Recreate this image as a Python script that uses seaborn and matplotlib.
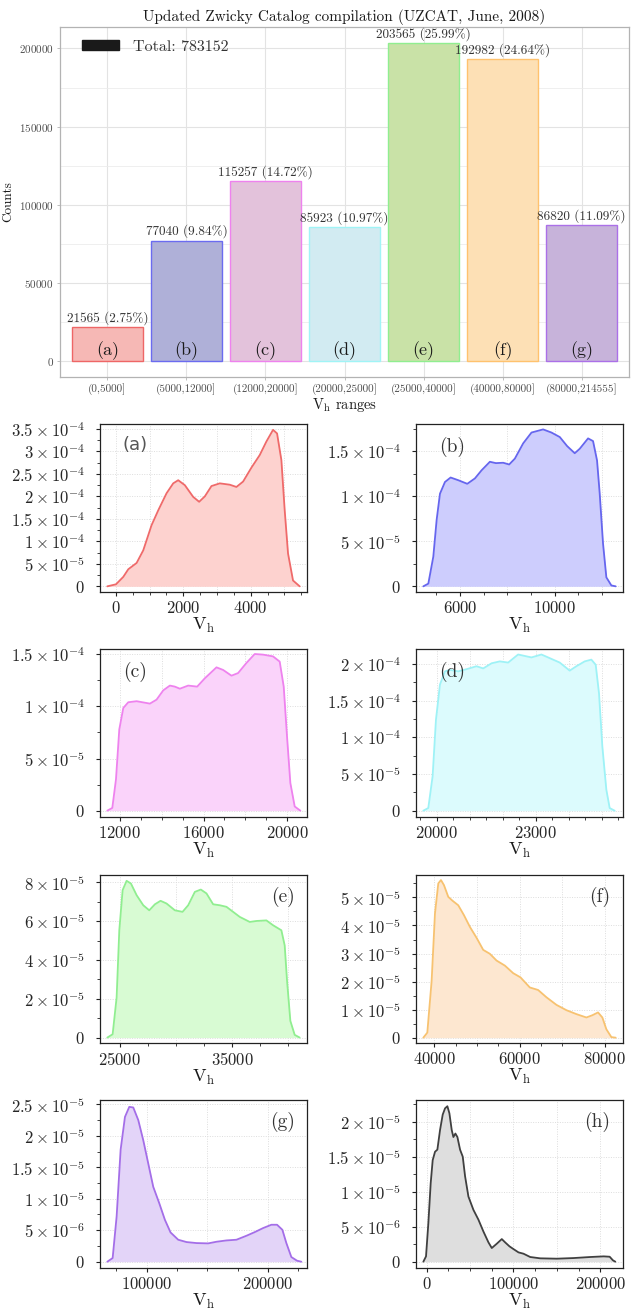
import numpy as np
import matplotlib
matplotlib.use("Agg")
import matplotlib.pyplot as plt
import matplotlib.patches as mpatches
from matplotlib.ticker import FixedLocator, FixedFormatter
import seaborn as sns

# bar chart data
categories = ["(0,5000]", "(5000,12000]", "(12000,20000]", "(20000,25000]",
              "(25000,40000]", "(40000,80000]", "(80000,214555]"]
counts = [21565, 77040, 115257, 85923, 203565, 192982, 86820]
percents = ["2.75%", "9.84%", "14.72%", "10.97%", "25.99%", "24.64%", "11.09%"]
letters = ["(a)", "(b)", "(c)", "(d)", "(e)", "(f)", "(g)"]
total = 783152
bar_fill = ["#f6b8b5", "#afb0d8", "#e3c2db", "#d2ebf2", "#c9e2a7", "#fde0b5", "#c7b3da"]
bar_edge = ["#ee6666", "#6b6bf0", "#ee82ee", "#a0f4f6", "#90ee90", "#ffc26e", "#ab70e8"]

# density curves (y in units of 1e-5)
vh_a = [-257, 0, 217, 366, 613, 810, 1057, 1255, 1502, 1700, 1848, 2045, 2292, 2470, 2638,
        2836, 3083, 3380, 3577, 3775, 4022, 4269, 4466, 4664, 4783, 4911, 5010, 5109, 5257, 5455]
dens_a = [0, 0.45, 2.1, 3.8, 5.2, 8.0, 13.6, 16.9, 20.7, 22.9, 23.6, 22.5, 19.9, 18.8, 20.0,
          22.3, 22.9, 22.6, 22.1, 23.3, 26.4, 29.2, 32.2, 34.8, 34.0, 28.1, 16.9, 7.3, 1.3, 0]

vh_b = [4456, 4667, 4877, 5018, 5158, 5368, 5607, 5930, 6309, 6632, 6912, 7263, 7516, 7825, 8077, 8316,
        8667, 9018, 9509, 9860, 10211, 10519, 10842, 11053, 11404, 11614, 11782, 11895, 12035, 12175,
        12386, 12568]
dens_b = [0, 0.3, 3.3, 7.4, 10.3, 11.6, 12.1, 11.8, 11.4, 12.0, 12.9, 13.85, 13.7, 13.74, 13.55, 14.2,
          15.9, 17.1, 17.45, 17.1, 16.6, 15.6, 14.8, 15.3, 16.45, 16.15, 14.0, 10.3, 4.75, 1.0, 0.1, 0]

vh_c = [11394, 11633, 11809, 11968, 12159, 12398, 12797, 13434, 13753, 14072, 14390, 14629, 14868,
        15267, 15697, 16064, 16622, 16940, 17339, 17657, 18056, 18454, 18853, 19331, 19649, 19841,
        20000, 20159, 20367, 20637]
dens_c = [0, 0.26, 3.0, 7.8, 9.85, 10.4, 10.5, 10.27, 10.65, 11.54, 12.0, 11.9, 11.7, 12.0, 11.9,
          12.7, 13.75, 13.5, 12.95, 13.2, 14.17, 15.03, 14.97, 14.8, 14.3, 11.9, 7.1, 2.65, 0.4, 0]

vh_d = [19597, 19748, 19879, 19980, 20101, 20252, 20403, 20655, 20906, 21208, 21410, 21662, 21913,
        22165, 22467, 22669, 22870, 23172, 23424, 23726, 24028, 24230, 24481, 24683, 24814, 24914,
        25015, 25136, 25237, 25388]
dens_d = [0, 0.36, 4.7, 12.4, 17.2, 19.0, 19.2, 19.0, 19.3, 19.7, 19.4, 20.1, 20.36, 20.2, 21.3,
          21.1, 20.9, 21.3, 20.8, 20.2, 19.1, 19.7, 20.36, 20.6, 19.9, 16.0, 8.77, 2.86, 0.36, 0]

vh_e = [23872, 24347, 24703, 24941, 25237, 25593, 25979, 26484, 27077, 27611, 28116, 28620, 29154,
        29896, 30579, 31083, 31677, 32211, 32715, 33309, 33902, 34496, 35089, 35682, 36573, 37166,
        38056, 38650, 39392, 39688, 39896, 40193, 40579, 41024]
dens_e = [0, 0.17, 2.07, 5.53, 7.60, 8.08, 7.94, 7.34, 6.82, 6.56, 6.87, 7.05, 6.91, 6.56, 6.48,
          6.82, 7.51, 7.63, 7.43, 6.87, 6.82, 6.74, 6.48, 6.22, 5.96, 6.01, 6.04, 5.79, 5.53, 4.75,
          2.94, 0.86, 0.14, 0]

vh_f = [37422, 38359, 39375, 40156, 40938, 41563, 42266, 43281, 44297, 45625, 46953, 48359, 49922,
        51484, 53047, 54609, 56563, 58516, 60234, 62422, 64375, 66328, 68672, 71016, 73359, 75703,
        77109, 78438, 79453, 80391, 81563, 82578]
dens_f = [0, 0.18, 2.03, 4.43, 5.50, 5.62, 5.44, 5.02, 4.88, 4.72, 4.37, 3.95, 3.56, 3.13, 2.99,
          2.75, 2.57, 2.30, 2.15, 1.79, 1.70, 1.44, 1.17, 0.98, 0.84, 0.72, 0.80, 0.90, 0.72, 0.30,
          0.02, 0]

vh_g = [67671, 72055, 75342, 78630, 82192, 85753, 89041, 93151, 97260, 101370, 105479, 110411,
        115068, 119726, 126027, 132877, 141096, 150685, 157534, 165753, 173973, 182192, 189041,
        195890, 202740, 207397, 211781, 215068, 219178, 223836, 227397]
dens_g = [0, 0.058, 0.72, 1.78, 2.30, 2.46, 2.45, 2.25, 1.93, 1.56, 1.19, 0.93, 0.666, 0.465, 0.349,
          0.312, 0.296, 0.291, 0.317, 0.338, 0.349, 0.412, 0.470, 0.534, 0.587, 0.587, 0.507, 0.296,
          0.074, 0.016, 0]

vh_h = [-3846, -769, 1923, 4615, 6923, 9615, 12308, 15385, 18462, 21154, 23846, 26154, 28846, 30769,
        33077, 35385, 38462, 41538, 44231, 48077, 53846, 59615, 65385, 71154, 75000, 80769, 86538,
        90385, 95385, 100000, 105769, 111538, 119231, 130769, 150000, 169231, 188462, 203846, 210769,
        214615, 217308]
dens_h = [0, 0.076, 0.55, 1.12, 1.45, 1.57, 1.60, 1.88, 2.10, 2.19, 2.22, 2.12, 1.88, 1.78, 1.83,
          1.78, 1.60, 1.50, 1.22, 0.93, 0.74, 0.60, 0.43, 0.276, 0.195, 0.257, 0.323, 0.276, 0.219,
          0.18, 0.133, 0.114, 0.067, 0.048, 0.043, 0.052, 0.067, 0.076, 0.071, 0.019, 0]

sns.set_theme(style="white")
plt.rcParams["font.family"] = ["cmr10", "DejaVu Serif"]
plt.rcParams["mathtext.fontset"] = "cm"
plt.rcParams["axes.unicode_minus"] = False
plt.rcParams["axes.formatter.use_mathtext"] = True

fig = plt.figure(figsize=(6.31, 13.14), dpi=100)

# ---------- top bar chart ----------
ax = fig.add_axes([60 / 631, 1 - 377 / 1314, 569 / 631, 350 / 1314])
sns.barplot(x=categories, y=counts, hue=categories, palette=bar_fill, width=0.9,
            saturation=1, legend=False, ax=ax, zorder=3)
for p, ec in zip(ax.patches, bar_edge):
    p.set_edgecolor(ec)
    p.set_linewidth(1.0)
for i, c in enumerate(counts):
    ax.text(i, c + 5800, f"{c} ({percents[i]})", ha="center", va="center",
            fontsize=9.5, color="#333333", zorder=4)
    ax.text(i, 6500, letters[i], ha="center", va="center", fontsize=13,
            color="#1a1a1a", zorder=4)
ax.set_xlim(-0.6, 6.6)
ax.set_ylim(-10178, 213743)
ax.set_yticks([0, 50000, 100000, 150000, 200000])
ax.set_yticks([25000, 75000, 125000, 175000], minor=True)
ax.grid(True, which="major", color="#e3e3e3", lw=0.8, zorder=0)
ax.grid(True, which="minor", axis="y", color="#ececec", lw=0.6, zorder=0)
ax.tick_params(axis="both", which="major", labelsize=8, labelcolor="#4d4d4d",
               color="#b3b3b3", length=2.5, width=0.6, pad=2, bottom=True, left=True)
ax.tick_params(axis="y", which="minor", length=0)
for s in ax.spines.values():
    s.set_color("#b3b3b3")
    s.set_linewidth(0.9)
ax.set_title("Updated Zwicky Catalog compilation (UZCAT, June, 2008)", fontsize=11,
             color="#1a1a1a", pad=4)
ax.set_xlabel(r"V$_\mathrm{h}$ ranges", fontsize=10.5, labelpad=1, color="#1a1a1a")
ax.set_ylabel("Counts", fontsize=9.5, labelpad=3, color="#1a1a1a")
leg = ax.legend(handles=[mpatches.Patch(facecolor="#1a1a1a", edgecolor="#1a1a1a")],
                labels=[f"Total: {total}"], loc="center left", bbox_to_anchor=(0.0385, 0.943),
                frameon=False, fontsize=11.5, handlelength=2.3, handleheight=0.6,
                handletextpad=0.9, borderpad=0, borderaxespad=0)
for t in leg.get_texts():
    t.set_color("#333333")

# ---------- density panels ----------
def sci(v):
    if v == 0:
        return r"$0$"
    e = int(np.floor(np.log10(abs(v)) + 1e-9))
    m = v / 10 ** e
    ms = f"{m:.1f}".rstrip("0").rstrip(".")
    return r"$%s\times10^{%d}$" % (ms, e)

panels = [
    dict(x=vh_a, y=dens_a, line="#ef6a6a", fill="#fdd2cf", label="(a)", pos=(100, 592),
         xlim=(-474, 5672), ylim=(-1.26, 36.1), xlab=[0, 2000, 4000],
         xgrid=[0, 1000, 2000, 3000, 4000, 5000], xminor=np.arange(0, 5501, 500),
         ymaj=[0, 5, 10, 15, 20, 25, 30, 35], ymin=np.arange(2.5, 36, 5), lab_right=False),
    dict(x=vh_b, y=dens_b, line="#6666ee", fill="#cdcdfd", label="(b)", pos=(416, 592),
         xlim=(4147, 12877), ylim=(-0.63, 18.05), xlab=[6000, 10000],
         xgrid=[6000, 8000, 10000, 12000], xminor=np.arange(5000, 12001, 1000),
         ymaj=[0, 5, 10, 15], ymin=[2.5, 7.5, 12.5, 17.5], lab_right=False),
    dict(x=vh_c, y=dens_c, line="#ee82ee", fill="#fad3fa", label="(c)", pos=(100, 817),
         xlim=(11044, 20956), ylim=(-0.61, 15.51), xlab=[12000, 16000, 20000],
         xgrid=[12000, 14000, 16000, 18000, 20000], xminor=np.arange(12000, 20001, 1000),
         ymaj=[0, 5, 10, 15], ymin=[2.5, 7.5, 12.5], lab_right=False),
    dict(x=vh_d, y=dens_d, line="#9ef2f6", fill="#dcfbfd", label="(d)", pos=(416, 817),
         xlim=(19376, 25640), ylim=(-0.86, 22.05), xlab=[20000, 23000],
         xgrid=[20000, 21000, 22000, 23000, 24000, 25000], xminor=np.arange(19500, 25501, 500),
         ymaj=[0, 5, 10, 15, 20], ymin=[2.5, 7.5, 12.5, 17.5], lab_right=False),
    dict(x=vh_e, y=dens_e, line="#90ee90", fill="#d8fbd3", label="(e)", pos=(100, 1043),
         xlim=(23220, 41677), ylim=(-0.28, 8.38), xlab=[25000, 35000],
         xgrid=[25000, 30000, 35000, 40000], xminor=np.arange(25000, 40001, 2500),
         ymaj=[0, 2, 4, 6, 8], ymin=[1, 3, 5, 7], lab_right=True),
    dict(x=vh_f, y=dens_f, line="#f7c270", fill="#fde7d0", label="(f)", pos=(416, 1043),
         xlim=(35703, 84297), ylim=(-0.19, 5.80), xlab=[40000, 60000, 80000],
         xgrid=[40000, 50000, 60000, 70000, 80000], xminor=np.arange(40000, 80001, 5000),
         ymaj=[0, 1, 2, 3, 4, 5], ymin=[0.5, 1.5, 2.5, 3.5, 4.5, 5.5], lab_right=True),
    dict(x=vh_g, y=dens_g, line="#a46ee8", fill="#e3d4f8", label="(g)", pos=(100, 1268),
         xlim=(61644, 232055), ylim=(-0.10, 2.569), xlab=[100000, 200000],
         xgrid=[100000, 150000, 200000], xminor=np.arange(75000, 225001, 25000),
         ymaj=[0, 0.5, 1.0, 1.5, 2.0, 2.5], ymin=[0.25, 0.75, 1.25, 1.75, 2.25], lab_right=True),
    dict(x=vh_h, y=dens_h, line="#404040", fill="#dedede", label="(h)", pos=(416, 1268),
         xlim=(-12308, 226154), ylim=(-0.09, 2.309), xlab=[0, 100000, 200000],
         xgrid=[0, 50000, 100000, 150000, 200000], xminor=np.arange(0, 200001, 25000),
         ymaj=[0, 0.5, 1.0, 1.5, 2.0], ymin=[0.25, 0.75, 1.25, 1.75, 2.25], lab_right=True),
]

for pn in panels:
    left, bottom = pn["pos"]
    ax = fig.add_axes([left / 631, 1 - bottom / 1314, 207 / 631, 168 / 1314])
    xs = np.array(pn["x"], dtype=float)
    ys = np.array(pn["y"], dtype=float) * 1e-5
    ax.fill_between(xs, ys, color=pn["fill"], lw=0, zorder=2)
    sns.lineplot(x=xs, y=ys, ax=ax, color=pn["line"], lw=1.3, sort=False, zorder=3)
    ax.set_xlim(*pn["xlim"])
    ax.set_ylim(pn["ylim"][0] * 1e-5, pn["ylim"][1] * 1e-5)

    ymaj = [v * 1e-5 for v in pn["ymaj"]]
    ax.yaxis.set_major_locator(FixedLocator(ymaj))
    ax.yaxis.set_major_formatter(FixedFormatter([sci(v) for v in ymaj]))
    ax.yaxis.set_minor_locator(FixedLocator([v * 1e-5 for v in pn["ymin"]]))
    ax.xaxis.set_major_locator(FixedLocator(pn["xlab"]))
    ax.xaxis.set_major_formatter(FixedFormatter([r"$%d$" % v for v in pn["xlab"]]))
    ax.xaxis.set_minor_locator(FixedLocator(list(pn["xminor"])))

    for g in pn["xgrid"]:
        ax.axvline(g, color="#dddddd", lw=0.7, ls=(0, (1, 1.5)), zorder=1)
    for g in ymaj:
        ax.axhline(g, color="#dddddd", lw=0.7, ls=(0, (1, 1.5)), zorder=1)

    ax.tick_params(axis="both", which="major", direction="out", length=3, width=0.8,
                   color="#222222", labelsize=12, bottom=True, left=True)
    ax.tick_params(axis="y", which="major", pad=8)
    ax.tick_params(axis="x", which="major", pad=3)
    ax.tick_params(axis="both", which="minor", direction="out", length=2, width=0.6,
                   color="#222222", bottom=True, left=True)
    for s in ax.spines.values():
        s.set_color("#222222")
        s.set_linewidth(0.9)
    ax.set_xlabel(r"V$_\mathrm{h}$", fontsize=13, labelpad=0, color="#1a1a1a")
    ax.set_ylabel("")

    if pn["label"] == "(a)":
        ax.text(0.11, 0.875, "(a)", transform=ax.transAxes, ha="left", va="center",
                fontsize=13, color="#555555", family="DejaVu Sans")
    elif pn["lab_right"]:
        ax.text(0.94, 0.87, pn["label"], transform=ax.transAxes, ha="right", va="center",
                fontsize=14, color="#333333")
    else:
        ax.text(0.11, 0.865, pn["label"], transform=ax.transAxes, ha="left", va="center",
                fontsize=14, color="#333333")

fig.savefig("out.png", dpi=100)
